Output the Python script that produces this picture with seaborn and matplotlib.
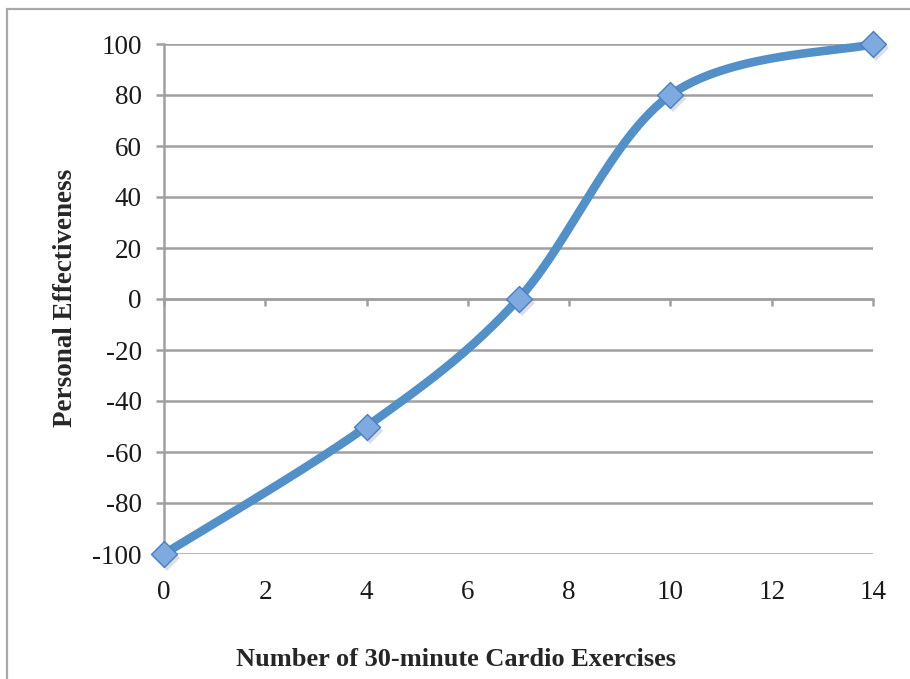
import numpy as np
import pandas as pd
import matplotlib
matplotlib.use("Agg")
import matplotlib.pyplot as plt
from matplotlib.patches import Rectangle
import seaborn as sns

# Data
sessions = [0, 4, 7, 10, 14]
effectiveness = [-100, -50, 0, 80, 100]
x_ticks = [0, 2, 4, 6, 8, 10, 12, 14]
y_ticks = [-100, -80, -60, -40, -20, 0, 20, 40, 60, 80, 100]
x_title = "Number of 30-minute Cardio Exercises"
y_title = "Personal Effectiveness"

LINE_BLUE = "#5390C8"
MARKER_FACE = "#7EAAE0"
MARKER_EDGE = "#4A7FC0"
GRID_GRAY = "#A0A0A0"


def smooth_curve(xs, ys, n=60):
    """Cubic Bezier smoothing through every point (spreadsheet-style)."""
    pts = np.column_stack([xs, ys]).astype(float)
    padded = np.vstack([pts[0], pts, pts[-1]])
    out = []
    t = np.linspace(0, 1, n)[:, None]
    for i in range(len(pts) - 1):
        p0, p3 = padded[i + 1], padded[i + 2]
        c1 = p0 + (padded[i + 2] - padded[i]) / 6.0
        c2 = p3 - (padded[i + 3] - padded[i + 1]) / 6.0
        seg = ((1 - t) ** 3) * p0 + 3 * ((1 - t) ** 2) * t * c1 \
            + 3 * (1 - t) * t ** 2 * c2 + t ** 3 * p3
        out.append(seg if i == 0 else seg[1:])
    seg = np.vstack(out)
    return seg[:, 0], seg[:, 1]


sns.set_theme(style="white")
plt.rcParams["font.family"] = ["Liberation Serif", "DejaVu Serif"]
plt.rcParams["axes.unicode_minus"] = False

fig = plt.figure(figsize=(9.10, 6.79), dpi=100)
W, H = 910, 679
ax = fig.add_axes([164 / W, 1 - 554 / H, (873 - 164) / W, (554 - 44) / H])

# Outer chart frame
fig.patches.append(Rectangle((7 / W, -0.05), 1.2, 1 - 9 / H + 0.05,
                             transform=fig.transFigure, fill=False,
                             edgecolor="#A8A8A8", linewidth=1.6))

ax.set_xlim(0, 14)
ax.set_ylim(-100, 100)
ax.set_xticks(x_ticks)
ax.set_yticks(y_ticks)

for yv in y_ticks:
    ax.axhline(yv, color=GRID_GRAY, linewidth=1.8, zorder=1)

for side in ["top", "right"]:
    ax.spines[side].set_visible(False)
ax.spines["left"].set_color(GRID_GRAY)
ax.spines["left"].set_linewidth(1.8)
ax.spines["bottom"].set_position(("data", 0))
ax.spines["bottom"].set_color(GRID_GRAY)
ax.spines["bottom"].set_linewidth(1.8)

ax.tick_params(axis="y", direction="out", length=6, width=1.8, color=GRID_GRAY,
               labelsize=19.5, pad=10, left=True, labelcolor="#1a1a1a")
ax.tick_params(axis="x", direction="out", length=5, width=1.8, color=GRID_GRAY,
               labelsize=19.5, pad=197, bottom=True, labelcolor="#1a1a1a")

cx, cy = smooth_curve(sessions, effectiveness)
curve = pd.DataFrame({"x": cx, "y": cy})
sns.lineplot(data=curve, x="x", y="y", sort=False, color=LINE_BLUE,
             linewidth=6.2, ax=ax, zorder=3, clip_on=False,
             solid_capstyle="round")

pts = pd.DataFrame({"x": sessions, "y": effectiveness})
# soft shadow under the markers
ax.plot(np.array(sessions) + 0.06, np.array(effectiveness) - 1.6, "D",
        markersize=13, color="#9aa6b5", alpha=0.35, zorder=4, clip_on=False,
        markeredgewidth=0)
sns.scatterplot(data=pts, x="x", y="y", marker="D", s=175, color=MARKER_FACE,
                edgecolor=MARKER_EDGE, linewidth=1.0, ax=ax, zorder=5,
                clip_on=False)

ax.set_xlabel("")
ax.set_ylabel("")
fig.text(456 / W, 1 - 659 / H, x_title, ha="center", va="center",
         fontsize=19, fontweight="bold")
fig.text(65 / W, 1 - 298 / H, y_title, ha="center", va="center",
         rotation=90, fontsize=19.5, fontweight="bold")

fig.savefig("out.png", dpi=100, facecolor="white")
